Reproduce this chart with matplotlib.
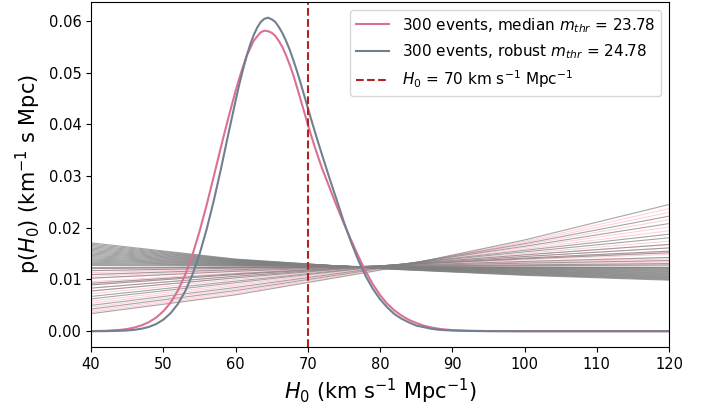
import numpy as np
import matplotlib.pyplot as plt

# H0 grid for the combined posteriors (half steps around the peak)
h0_post = ([40, 42] + list(range(44, 58)) + list(np.arange(58, 72.5, 0.5))
           + list(range(73, 91)) + [92, 95, 100, 110, 120])

post_median = [0.00002, 0.00008,
               # 44 - 57
               0.00025, 0.00043, 0.00071, 0.00114, 0.00175, 0.00262, 0.00385,
               0.0055, 0.0078, 0.0108, 0.0146, 0.0192, 0.0244, 0.0300,
               # 58 - 72 in half steps
               0.0357, 0.0385, 0.0412, 0.0438, 0.0464, 0.0488, 0.0510, 0.0531,
               0.0546, 0.0561, 0.0570, 0.0578, 0.0581, 0.0580, 0.0577, 0.0571,
               0.0561, 0.0549, 0.0533, 0.0515, 0.0495, 0.0472, 0.0448, 0.0424,
               0.0400, 0.0377, 0.0355, 0.0334, 0.0314,
               # 73 - 90
               0.0278, 0.0242, 0.0208, 0.0176, 0.0145, 0.0116, 0.0091, 0.0070,
               0.0053, 0.0040, 0.0030, 0.0022, 0.0016, 0.0011, 0.00075, 0.0005,
               0.00033, 0.00022,
               0.0001, 0.00003, 0.0, 0.0, 0.0]

post_robust = [0.0, 0.00001,
               # 44 - 57
               0.00008, 0.00015, 0.00027, 0.00049, 0.00083, 0.00138, 0.00222,
               0.00346, 0.00522, 0.00763, 0.0108, 0.0148, 0.0197, 0.0253,
               # 58 - 72 in half steps
               0.0315, 0.0348, 0.0381, 0.0413, 0.0445, 0.0476, 0.0504, 0.0530,
               0.0553, 0.0572, 0.0587, 0.0598, 0.0604, 0.0606, 0.0603, 0.0598,
               0.0588, 0.0576, 0.0561, 0.0544, 0.0524, 0.0503, 0.0480, 0.0456,
               0.0432, 0.0408, 0.0385, 0.0362, 0.0340,
               # 73 - 90
               0.0296, 0.0254, 0.0211, 0.0172, 0.0137, 0.0107, 0.0082, 0.0062,
               0.0046, 0.0033, 0.0024, 0.0017, 0.0011, 0.0008, 0.0005, 0.0003,
               0.0002, 0.00013,
               0.00005, 0.00001, 0.0, 0.0, 0.0]

# single-event likelihoods, sampled at these H0 values
h0_events = [40, 60, 80, 100, 120]

events_median = [
    [0.01211, 0.01235, 0.01253, 0.01267, 0.01279],
    [0.01171, 0.01219, 0.01255, 0.01283, 0.01307],
    [0.01134, 0.01204, 0.01257, 0.01300, 0.01336],
    [0.01096, 0.01189, 0.01259, 0.01316, 0.01365],
    [0.01061, 0.01174, 0.01261, 0.01333, 0.01395],
    [0.01025, 0.01158, 0.01262, 0.01349, 0.01425],
    [0.00958, 0.01126, 0.01263, 0.01381, 0.01486],
    [0.00926, 0.01111, 0.01264, 0.01398, 0.01517],
    [0.00894, 0.01095, 0.01264, 0.01414, 0.01548],
    [0.00833, 0.01063, 0.01263, 0.01444, 0.01610],
    [0.00777, 0.01032, 0.01262, 0.01476, 0.01677],
    [0.00723, 0.01000, 0.01259, 0.01505, 0.01741],
    [0.00580, 0.00906, 0.01243, 0.01589, 0.01942],
    [0.00539, 0.00877, 0.01238, 0.01619, 0.02014],
    [0.00463, 0.00817, 0.01222, 0.01670, 0.02155],
    [0.00396, 0.00758, 0.01200, 0.01716, 0.02297],
    [0.00366, 0.00729, 0.01189, 0.01738, 0.02369],
]

events_robust = [
    [0.01708, 0.01395, 0.01208, 0.01080, 0.00986],
    [0.01683, 0.01388, 0.01211, 0.01089, 0.00999],
    [0.01657, 0.01381, 0.01213, 0.01097, 0.01011],
    [0.01633, 0.01374, 0.01216, 0.01106, 0.01024],
    [0.01608, 0.01367, 0.01219, 0.01115, 0.01036],
    [0.01584, 0.01360, 0.01221, 0.01123, 0.01049],
    [0.01559, 0.01353, 0.01223, 0.01131, 0.01061],
    [0.01536, 0.01346, 0.01226, 0.01140, 0.01074],
    [0.01512, 0.01339, 0.01228, 0.01149, 0.01087],
    [0.01489, 0.01332, 0.01230, 0.01157, 0.01100],
    [0.01465, 0.01324, 0.01232, 0.01165, 0.01113],
    [0.01443, 0.01317, 0.01234, 0.01174, 0.01127],
    [0.01420, 0.01309, 0.01236, 0.01182, 0.01140],
    [0.01398, 0.01302, 0.01238, 0.01191, 0.01154],
    [0.01376, 0.01295, 0.01240, 0.01199, 0.01167],
    [0.01355, 0.01288, 0.01242, 0.01208, 0.01181],
    [0.01333, 0.01280, 0.01244, 0.01216, 0.01194],
    [0.01312, 0.01273, 0.01246, 0.01225, 0.01208],
    [0.01291, 0.01265, 0.01247, 0.01233, 0.01222],
    [0.01271, 0.01258, 0.01249, 0.01242, 0.01236],
    [0.01250, 0.01250, 0.01250, 0.01250, 0.01250],
    [0.01211, 0.01235, 0.01253, 0.01267, 0.01279],
    [0.01171, 0.01219, 0.01255, 0.01283, 0.01307],
    [0.01096, 0.01189, 0.01259, 0.01316, 0.01365],
    [0.01025, 0.01158, 0.01262, 0.01349, 0.01425],
    [0.00926, 0.01111, 0.01264, 0.01398, 0.01517],
    [0.00894, 0.01095, 0.01264, 0.01414, 0.01548],
    [0.00833, 0.01063, 0.01263, 0.01444, 0.01610],
    [0.00777, 0.01032, 0.01262, 0.01476, 0.01677],
    [0.00672, 0.00968, 0.01254, 0.01533, 0.01806],
    [0.00625, 0.00938, 0.01250, 0.01563, 0.01875],
    [0.00499, 0.00845, 0.01229, 0.01642, 0.02081],
    [0.00428, 0.00786, 0.01211, 0.01692, 0.02224],
    [0.00339, 0.00703, 0.01180, 0.01764, 0.02449],
]

m_thr_median = 23.78
m_thr_robust = 24.78
h0_true = 70

fig = plt.figure(figsize=(7.14, 4.11), dpi=100)
ax = fig.add_axes([0.1275, 0.156, 0.8095, 0.839])

for row in events_median:
    ax.plot(h0_events, row, color='pink', lw=0.7, alpha=0.8)
for row in events_robust:
    ax.plot(h0_events, row, color='grey', lw=0.8, alpha=0.7)

ax.plot(h0_post, post_median, color='palevioletred', lw=1.5,
        label=f'300 events, median $m_{{thr}}$ = {m_thr_median}')
ax.plot(h0_post, post_robust, color='slategrey', lw=1.5,
        label=f'300 events, robust $m_{{thr}}$ = {m_thr_robust}')
ax.axvline(h0_true, color='firebrick', ls='--', lw=1.5,
           label=r'$H_0$ = 70 km s$^{-1}$ Mpc$^{-1}$')

ax.set_xlim(40, 120)
ax.set_xlabel(r'$H_0$ (km s$^{-1}$ Mpc$^{-1}$)', fontsize=15)
ax.set_ylabel(r'p($H_0$) (km$^{-1}$ s Mpc)', fontsize=15)
ax.tick_params(labelsize=10.5)
ax.legend(loc='upper right', fontsize=11, handlelength=2.2, labelspacing=0.5)

fig.savefig('out.png', dpi=100)
